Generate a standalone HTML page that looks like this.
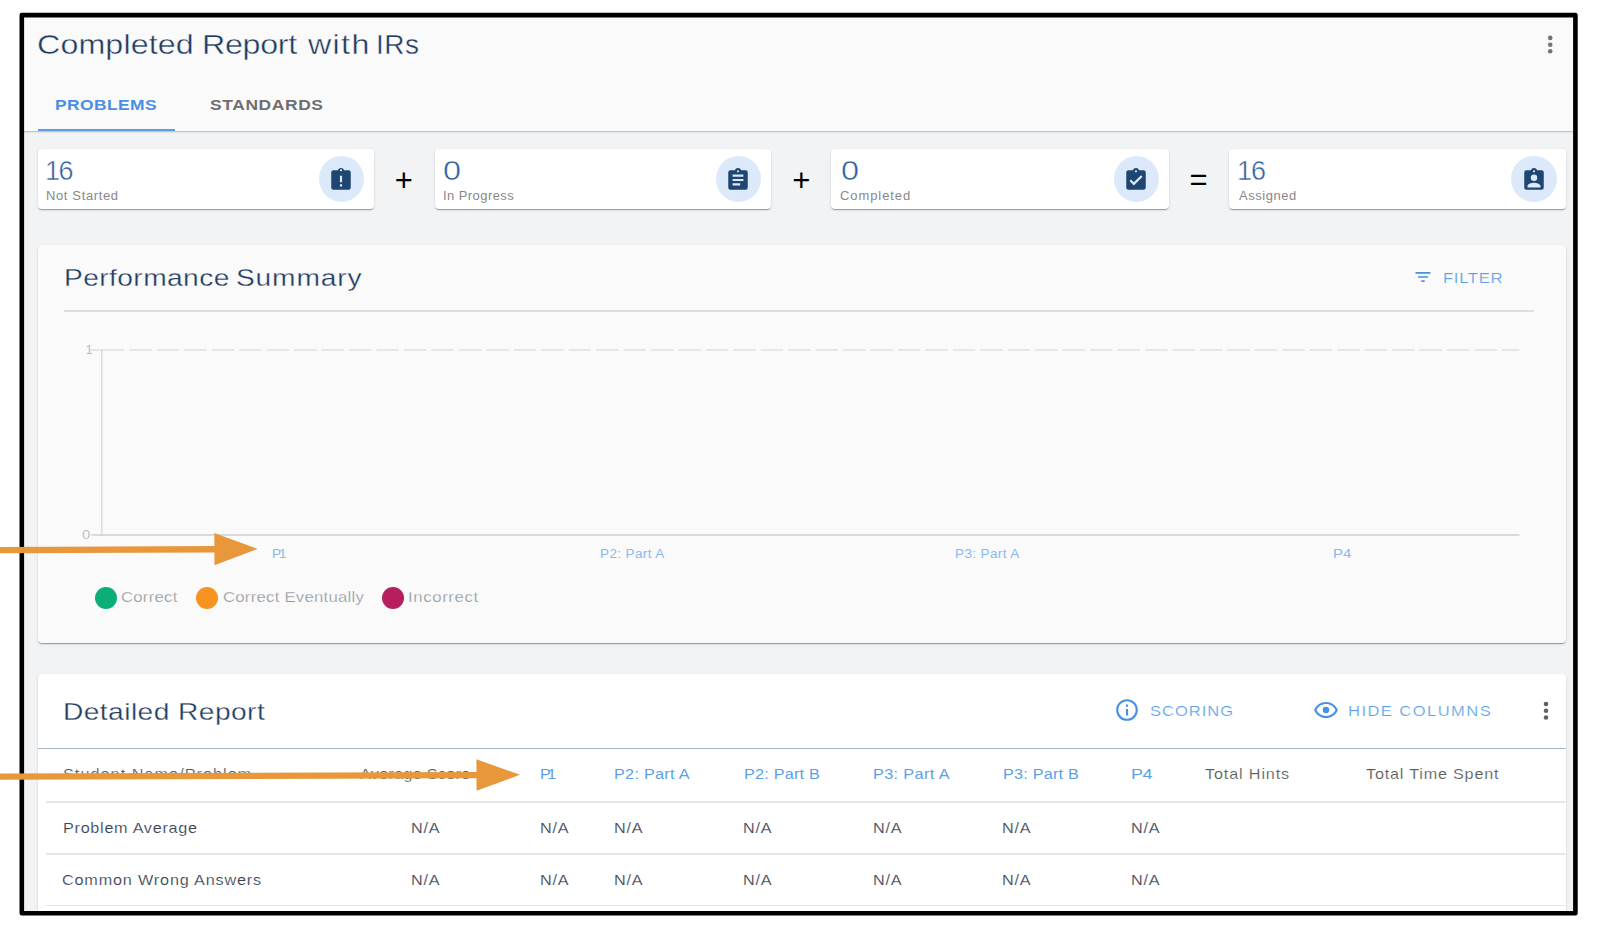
<!DOCTYPE html>
<html lang="en">
<head>
<meta charset="utf-8">
<title>Completed Report with IRs</title>
<style>
*{box-sizing:border-box}
html,body{margin:0;padding:0}
body{width:1600px;height:935px;background:#fff;overflow:hidden;font-family:"Liberation Sans",sans-serif}
#page{position:relative;width:1600px;height:935px;overflow:hidden;background:#fff}
#frame{position:absolute;left:22px;top:15px;width:1553.5px;height:898.5px;background:#f1f3f5;overflow:hidden}
#app{position:absolute;left:-22px;top:-15px;width:1600px;height:935px}
#border{position:absolute;left:0;top:0;z-index:6}
.t{position:absolute;white-space:pre;line-height:1;margin:0;font-weight:400;transform-origin:0 0}
.ic{position:absolute;display:block}
.op{font-size:31px;color:#000}
.abs{position:absolute}
h1,h2{margin:0;font-size:inherit;font-weight:400}
header{position:absolute;left:0;top:0;width:1600px;height:130.5px;background:#fafafa}
.hline{position:absolute;left:0;top:130.6px;width:1600px;height:1.3px;background:#c6c6c6;box-shadow:0 1px 1px rgba(0,0,0,.07)}
.tabbar{position:absolute;left:37.5px;top:129.4px;width:137px;height:2.1px;background:#5d9de7}
.stat{position:absolute;top:148.8px;height:59.8px;width:336.6px;background:#fff;border-radius:4px;box-shadow:0 2px 1px -1px rgba(0,0,0,.2),0 1px 1px 0 rgba(0,0,0,.14),0 1px 3px 0 rgba(0,0,0,.12)}

.bub{position:absolute;width:45.4px;height:46.2px;border-radius:50%;background:#dbe9fb;top:7.05px}
.card{position:absolute;left:37.5px;width:1528.6px;border-radius:4px;box-shadow:0 2px 1px -1px rgba(0,0,0,.2),0 1px 1px 0 rgba(0,0,0,.14),0 1px 3px 0 rgba(0,0,0,.12)}
.dot{position:absolute;border-radius:50%}
.rule{position:absolute;height:1.6px;background:#e6e6e6}
#arrows{position:absolute;left:0;top:0;z-index:7}
</style>
</head>
<body>
<div id="page">
<div id="frame"><div id="app">

<header>
<h1><span class="t" style="left:37px;top:31px;font-size:28px;letter-spacing:0.11px;color:#1f3b60;transform:scaleX(1.15);-webkit-text-stroke:0.4px #fafafa;">Completed</span> <span class="t" style="left:201.8px;top:31px;font-size:28px;letter-spacing:-0.27px;color:#1f3b60;transform:scaleX(1.15);-webkit-text-stroke:0.4px #fafafa;">Report</span> <span class="t" style="left:307.6px;top:31px;font-size:28px;letter-spacing:1.18px;color:#1f3b60;transform:scaleX(1.15);-webkit-text-stroke:0.4px #fafafa;">with</span> <span class="t" style="left:376px;top:31px;font-size:28px;letter-spacing:0.5px;color:#1f3b60;-webkit-text-stroke:0.4px #fafafa;">IRs</span></h1>
<nav><a class="t" style="left:55px;top:98.1px;font-size:14.5px;letter-spacing:0.36px;color:#4a90e2;font-weight:700;transform:scaleX(1.2);">PROBLEMS</a><a class="t" style="left:209.8px;top:98.1px;font-size:14.5px;letter-spacing:0.52px;color:#6e6e6e;font-weight:700;transform:scaleX(1.2);">STANDARDS</a></nav>
<svg class="ic" style="left:1544px;top:32px" width="12" height="26" viewBox="0 0 12 26"><circle cx="6.2" cy="5.9" r="2.3" fill="#757575"/><circle cx="6.2" cy="12.7" r="2.3" fill="#757575"/><circle cx="6.2" cy="19.2" r="2.3" fill="#757575"/></svg>
</header>
<div class="hline"></div><div class="tabbar"></div>
<section>
<div class="stat" style="left:37.5px;width:336.2px"><div class="bub" style="left:281.4px"></div></div>
<div class="t" style="left:45px;top:158px;font-size:27px;letter-spacing:-1.5px;color:#2f5d9b;-webkit-text-stroke:0.45px #fff;">16</div>
<div class="t" style="left:46px;top:189.5px;font-size:12px;letter-spacing:0.6px;color:#888888;transform:scaleX(1.08);">Not Started</div>
<svg class="ic" style="left:328.2px;top:167.0px" width="26" height="26" viewBox="0 0 24 24"><path fill="#1f4571" fill-rule="evenodd" d="M12,2A1,1 0 0,1 13,3A1,1 0 0,1 12,4A1,1 0 0,1 11,3A1,1 0 0,1 12,2M19,3H14.82C14.4,1.84 13.3,1 12,1C10.7,1 9.6,1.84 9.18,3H5A2,2 0 0,0 3,5V19A2,2 0 0,0 5,21H19A2,2 0 0,0 21,19V5A2,2 0 0,0 19,3M13,14H11V8H13V14M13,18H11V16H13V18Z"/></svg>
<div class="stat" style="left:434.9px;width:336.3px"><div class="bub" style="left:281.1px"></div></div>
<div class="t" style="left:442.8px;top:158px;font-size:27px;letter-spacing:0px;color:#2f5d9b;transform:scaleX(1.2);-webkit-text-stroke:0.45px #fff;">0</div>
<div class="t" style="left:442.8px;top:189.5px;font-size:12px;letter-spacing:0.41px;color:#888888;transform:scaleX(1.08);">In Progress</div>
<svg class="ic" style="left:725.3px;top:167.0px" width="26" height="26" viewBox="0 0 24 24"><path fill="#1f4571" fill-rule="evenodd" d="M17,9H7V7H17M17,13H7V11H17M14,17H7V15H14M12,3A1,1 0 0,1 13,4A1,1 0 0,1 12,5A1,1 0 0,1 11,4A1,1 0 0,1 12,3M19,3H14.82C14.4,1.84 13.3,1 12,1C10.7,1 9.6,1.84 9.18,3H5A2,2 0 0,0 3,5V19A2,2 0 0,0 5,21H19A2,2 0 0,0 21,19V5A2,2 0 0,0 19,3Z"/></svg>
<div class="stat" style="left:831.2px;width:337.5px"><div class="bub" style="left:282.8px"></div></div>
<div class="t" style="left:841px;top:158px;font-size:27px;letter-spacing:0px;color:#2f5d9b;transform:scaleX(1.2);-webkit-text-stroke:0.45px #fff;">0</div>
<div class="t" style="left:840.0px;top:189.5px;font-size:12px;letter-spacing:0.87px;color:#888888;transform:scaleX(1.08);">Completed</div>
<svg class="ic" style="left:1123.3px;top:167.0px" width="26" height="26" viewBox="0 0 24 24"><path fill="#1f4571" fill-rule="evenodd" d="M10,17L6,13L7.41,11.59L10,14.17L16.59,7.58L18,9M12,3A1,1 0 0,1 13,4A1,1 0 0,1 12,5A1,1 0 0,1 11,4A1,1 0 0,1 12,3M19,3H14.82C14.4,1.84 13.3,1 12,1C10.7,1 9.6,1.84 9.18,3H5A2,2 0 0,0 3,5V19A2,2 0 0,0 5,21H19A2,2 0 0,0 21,19V5A2,2 0 0,0 19,3Z"/></svg>
<div class="stat" style="left:1229.1px;width:337.0px"><div class="bub" style="left:282.1px"></div></div>
<div class="t" style="left:1237px;top:158px;font-size:27px;letter-spacing:-1.0px;color:#2f5d9b;-webkit-text-stroke:0.45px #fff;">16</div>
<div class="t" style="left:1239px;top:189.5px;font-size:12px;letter-spacing:0.53px;color:#888888;transform:scaleX(1.08);">Assigned</div>
<svg class="ic" style="left:1520.5px;top:167.0px" width="26" height="26" viewBox="0 0 24 24"><path fill="#1f4571" fill-rule="evenodd" d="M18,19H6V17.6C6,15.6 10,14.5 12,14.5C14,14.5 18,15.6 18,17.6M12,7A3,3 0 0,1 15,10A3,3 0 0,1 12,13A3,3 0 0,1 9,10A3,3 0 0,1 12,7M12,3A1,1 0 0,1 13,4A1,1 0 0,1 12,5A1,1 0 0,1 11,4A1,1 0 0,1 12,3M19,3H14.82C14.4,1.84 13.3,1 12,1C10.7,1 9.6,1.84 9.18,3H5A2,2 0 0,0 3,5V19A2,2 0 0,0 5,21H19A2,2 0 0,0 21,19V5A2,2 0 0,0 19,3Z"/></svg>
<span class="t op" style="left:394.8px;top:164.6px">+</span>
<span class="t op" style="left:792.2px;top:164.6px">+</span>
<span class="t op" style="left:1189.6px;top:164.4px">=</span>
</section>
<section>
<div class="card" style="top:244.6px;height:398.8px;background:#fafafa"></div>
<h2><span class="t" style="left:64.2px;top:265.5px;font-size:24.5px;letter-spacing:0.35px;color:#1f3b60;transform:scaleX(1.15);-webkit-text-stroke:0.3px #fafafa;">Performance</span> <span class="t" style="left:235.8px;top:265.5px;font-size:24.5px;letter-spacing:0.72px;color:#1f3b60;transform:scaleX(1.15);-webkit-text-stroke:0.3px #fafafa;">Summary</span></h2>
<svg class="ic" style="left:1413.1px;top:266.9px" width="20" height="20" viewBox="0 0 24 24"><path fill="#4a90e2" fill-rule="evenodd" d="M6,13H18V11H6M3,6V8H21V6M10,18H14V16H10V18Z"/></svg>
<span class="t" style="left:1442.5px;top:270.1px;font-size:15.5px;letter-spacing:0.59px;color:#5b9fe9;transform:scaleX(1.08);-webkit-text-stroke:0.2px #fafafa;">FILTER</span>
<div class="rule" style="left:63.8px;top:310.3px;width:1470.6px;background:#dfdfdf;height:1.5px"></div>
<svg class="ic" style="left:60px;top:330px" width="1480" height="220" viewBox="60 330 1480 220"><line x1="91" y1="350" x2="102" y2="350" stroke="#d6d6d6" stroke-width="1.2"/><line x1="101.95" y1="350" x2="1519.4" y2="350" stroke="#dfdfdf" stroke-width="1.3" stroke-dasharray="22.4 5.05"/><line x1="101.8" y1="349.5" x2="101.8" y2="535.5" stroke="#dadada" stroke-width="1.4"/><line x1="91.4" y1="535" x2="1519.5" y2="535" stroke="#cfcfcf" stroke-width="1.5"/></svg>
<span class="t" style="left:85.4px;top:342.8px;font-size:13px;letter-spacing:0px;color:#bdbdbd;">1</span>
<span class="t" style="left:82px;top:528px;font-size:13px;letter-spacing:0px;color:#bdbdbd;transform:scaleX(1.15);">0</span>
<span class="t" style="left:272px;top:547.8px;font-size:12.5px;letter-spacing:-1.85px;color:#8bb8ee;transform:scaleX(1.08);">P1</span>
<span class="t" style="left:600.0px;top:547.8px;font-size:12.5px;letter-spacing:0.36px;color:#8bb8ee;transform:scaleX(1.08);">P2: Part A</span>
<span class="t" style="left:955.0px;top:547.8px;font-size:12.5px;letter-spacing:0.36px;color:#8bb8ee;transform:scaleX(1.08);">P3: Part A</span>
<span class="t" style="left:1333px;top:547.8px;font-size:12.5px;letter-spacing:0.0px;color:#8bb8ee;transform:scaleX(1.2);">P4</span>
<span class="dot" style="left:94.7px;top:586.9px;width:22px;height:22px;background:#0cae78"></span>
<span class="dot" style="left:196px;top:586.9px;width:22px;height:22px;background:#f7941f"></span>
<span class="dot" style="left:382px;top:586.9px;width:22px;height:22px;background:#b81d5d"></span>
<span class="t" style="left:120.6px;top:588.7px;font-size:15.5px;letter-spacing:0.22px;color:#91979d;transform:scaleX(1.08);-webkit-text-stroke:0.25px #fafafa;">Correct</span>
<span class="t" style="left:222.6px;top:588.7px;font-size:15.5px;letter-spacing:0.22px;color:#91979d;transform:scaleX(1.08);-webkit-text-stroke:0.25px #fafafa;">Correct Eventually</span>
<span class="t" style="left:407.6px;top:588.7px;font-size:15.5px;letter-spacing:0.58px;color:#91979d;transform:scaleX(1.08);-webkit-text-stroke:0.25px #fafafa;">Incorrect</span>
</section>
<section>
<div class="card" style="top:673.8px;height:300px;background:#fff"></div>
<h2 class="t" style="left:63px;top:700px;font-size:24.5px;letter-spacing:0.37px;color:#1f3b60;transform:scaleX(1.15);-webkit-text-stroke:0.3px #fff;">Detailed Report</h2>
<svg class="ic" style="left:1114px;top:697.2px" width="26" height="26" viewBox="0 0 24 24"><path fill="#4a90e2" fill-rule="evenodd" d="M11,9H13V7H11M12,20C7.59,20 4,16.41 4,12C4,7.59 7.59,4 12,4C16.41,4 20,7.59 20,12C20,16.41 16.41,20 12,20M12,2A10,10 0 0,0 2,12A10,10 0 0,0 12,22A10,10 0 0,0 22,12A10,10 0 0,0 12,2M11,17H13V11H11V17Z"/></svg>
<span class="t" style="left:1150.2px;top:703.2px;font-size:15.3px;letter-spacing:0.93px;color:#5b9fe9;transform:scaleX(1.08);-webkit-text-stroke:0.2px #fff;">SCORING</span>
<svg class="ic" style="left:1312.6px;top:697.3px" width="26" height="26" viewBox="0 0 24 24"><path fill="#4a90e2" fill-rule="evenodd" d="M12,9A3,3 0 0,1 15,12A3,3 0 0,1 12,15A3,3 0 0,1 9,12A3,3 0 0,1 12,9M12,4.5C17,4.5 21.27,7.61 23,12C21.27,16.39 17,19.5 12,19.5C7,19.5 2.73,16.39 1,12C2.73,7.61 7,4.5 12,4.5M3.18,12C4.83,15.36 8.24,17.5 12,17.5C15.76,17.5 19.17,15.36 20.82,12C19.17,8.64 15.76,6.5 12,6.5C8.24,6.5 4.83,8.64 3.18,12Z"/></svg>
<span class="t" style="left:1348.4px;top:703.2px;font-size:15.3px;letter-spacing:1.35px;color:#5b9fe9;transform:scaleX(1.08);-webkit-text-stroke:0.2px #fff;">HIDE COLUMNS</span>
<svg class="ic" style="left:1540px;top:698px" width="12" height="26" viewBox="0 0 12 26"><circle cx="6" cy="6" r="2.3" fill="#616161"/><circle cx="6" cy="12.7" r="2.3" fill="#616161"/><circle cx="6" cy="19.5" r="2.3" fill="#616161"/></svg>
<div class="rule" style="left:37.5px;top:747.6px;width:1528.6px;background:#a9b6c2;height:1.3px"></div>
<div role="row">
<span class="t" style="left:62.5px;top:766.0px;font-size:15px;letter-spacing:0.97px;color:#5c5c5c;transform:scaleX(1.08);-webkit-text-stroke:0.15px #fff;">Student Name/Problem</span>
<span class="t" style="left:360.2px;top:766.0px;font-size:15px;letter-spacing:0.26px;color:#5c5c5c;transform:scaleX(1.08);-webkit-text-stroke:0.15px #fff;">Average Score</span>
<span class="t" style="left:540.2px;top:766.0px;font-size:15px;letter-spacing:-3.25px;color:#5b9fe9;transform:scaleX(1.08);">P1</span>
<span class="t" style="left:614px;top:766.0px;font-size:15px;letter-spacing:0.26px;color:#5b9fe9;transform:scaleX(1.08);">P2: Part A</span>
<span class="t" style="left:743.6px;top:766.0px;font-size:15px;letter-spacing:0.21px;color:#5b9fe9;transform:scaleX(1.08);">P2: Part B</span>
<span class="t" style="left:872.6px;top:766.0px;font-size:15px;letter-spacing:0.36px;color:#5b9fe9;transform:scaleX(1.08);">P3: Part A</span>
<span class="t" style="left:1002.6px;top:766.0px;font-size:15px;letter-spacing:0.21px;color:#5b9fe9;transform:scaleX(1.08);">P3: Part B</span>
<span class="t" style="left:1130.8px;top:766.0px;font-size:15px;letter-spacing:-0.42px;color:#5b9fe9;transform:scaleX(1.2);">P4</span>
<span class="t" style="left:1205.2px;top:766.0px;font-size:15px;letter-spacing:0.79px;color:#5c5c5c;transform:scaleX(1.08);-webkit-text-stroke:0.15px #fff;">Total Hints</span>
<span class="t" style="left:1365.6px;top:766.0px;font-size:15px;letter-spacing:0.73px;color:#5c5c5c;transform:scaleX(1.08);-webkit-text-stroke:0.15px #fff;">Total Time Spent</span>
</div>
<div class="rule" style="left:46.4px;top:801.0px;width:1519.7px"></div>
<div role="row">
<span class="t" style="left:62.8px;top:819.5px;font-size:15px;letter-spacing:0.66px;color:#384352;transform:scaleX(1.08);-webkit-text-stroke:0.15px #fff;">Problem Average</span>
<span class="t" style="left:411.0px;top:819.5px;font-size:15px;letter-spacing:0.7px;color:#384352;transform:scaleX(1.08);-webkit-text-stroke:0.15px #fff;">N/A</span>
<span class="t" style="left:540.2px;top:819.5px;font-size:15px;letter-spacing:0.7px;color:#384352;transform:scaleX(1.08);-webkit-text-stroke:0.15px #fff;">N/A</span>
<span class="t" style="left:613.8px;top:819.5px;font-size:15px;letter-spacing:0.7px;color:#384352;transform:scaleX(1.08);-webkit-text-stroke:0.15px #fff;">N/A</span>
<span class="t" style="left:742.8px;top:819.5px;font-size:15px;letter-spacing:0.7px;color:#384352;transform:scaleX(1.08);-webkit-text-stroke:0.15px #fff;">N/A</span>
<span class="t" style="left:872.8px;top:819.5px;font-size:15px;letter-spacing:0.7px;color:#384352;transform:scaleX(1.08);-webkit-text-stroke:0.15px #fff;">N/A</span>
<span class="t" style="left:1001.8px;top:819.5px;font-size:15px;letter-spacing:0.7px;color:#384352;transform:scaleX(1.08);-webkit-text-stroke:0.15px #fff;">N/A</span>
<span class="t" style="left:1131.0px;top:819.5px;font-size:15px;letter-spacing:0.7px;color:#384352;transform:scaleX(1.08);-webkit-text-stroke:0.15px #fff;">N/A</span>
</div>
<div class="rule" style="left:46.4px;top:853.3px;width:1519.7px"></div>
<div role="row">
<span class="t" style="left:62.4px;top:871.5px;font-size:15px;letter-spacing:0.77px;color:#384352;transform:scaleX(1.08);-webkit-text-stroke:0.15px #fff;">Common Wrong Answers</span>
<span class="t" style="left:411.0px;top:871.5px;font-size:15px;letter-spacing:0.7px;color:#384352;transform:scaleX(1.08);-webkit-text-stroke:0.15px #fff;">N/A</span>
<span class="t" style="left:540.2px;top:871.5px;font-size:15px;letter-spacing:0.7px;color:#384352;transform:scaleX(1.08);-webkit-text-stroke:0.15px #fff;">N/A</span>
<span class="t" style="left:613.8px;top:871.5px;font-size:15px;letter-spacing:0.7px;color:#384352;transform:scaleX(1.08);-webkit-text-stroke:0.15px #fff;">N/A</span>
<span class="t" style="left:742.8px;top:871.5px;font-size:15px;letter-spacing:0.7px;color:#384352;transform:scaleX(1.08);-webkit-text-stroke:0.15px #fff;">N/A</span>
<span class="t" style="left:872.8px;top:871.5px;font-size:15px;letter-spacing:0.7px;color:#384352;transform:scaleX(1.08);-webkit-text-stroke:0.15px #fff;">N/A</span>
<span class="t" style="left:1001.8px;top:871.5px;font-size:15px;letter-spacing:0.7px;color:#384352;transform:scaleX(1.08);-webkit-text-stroke:0.15px #fff;">N/A</span>
<span class="t" style="left:1131.0px;top:871.5px;font-size:15px;letter-spacing:0.7px;color:#384352;transform:scaleX(1.08);-webkit-text-stroke:0.15px #fff;">N/A</span>
</div>
<div class="rule" style="left:46.4px;top:904.9px;width:1519.7px"></div>
</section>
</div></div>

<svg id="arrows" width="1600" height="935" viewBox="0 0 1600 935"><polygon fill="#e8973b" points="0,547.1 214.4,545.9 214.3,533.1 257.6,548.9 214.5,565.2 214.4,552.4 0,553.3"/><polygon fill="#e8973b" points="0,773.5 476.5,772 476.4,759.35 520.1,774.75 476.6,790.85 476.5,778.2 0,779.7"/></svg>
<svg id="border" width="1600" height="935" viewBox="0 0 1600 935"><rect x="21.8" y="15.1" width="1553.6" height="898.1" fill="none" stroke="#000" stroke-width="4.6" stroke-linejoin="round"/></svg>
</div>
</body>
</html>
